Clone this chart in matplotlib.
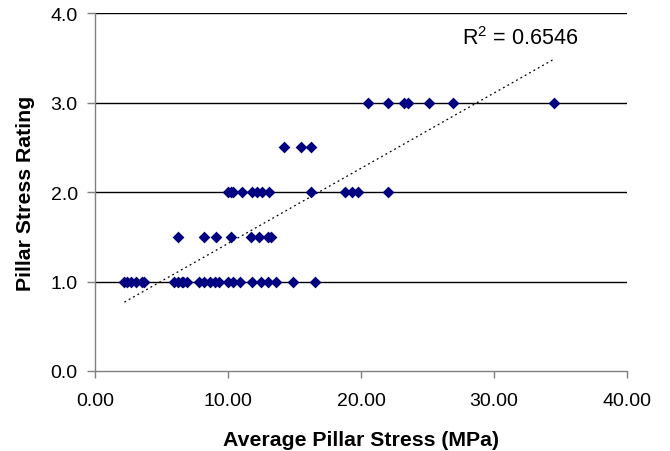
import numpy as np
import matplotlib
matplotlib.use("Agg")
import matplotlib.pyplot as plt

plt.rcParams['font.family'] = ['Liberation Sans', 'DejaVu Sans']
plt.rcParams['mathtext.fontset'] = 'custom'
plt.rcParams['mathtext.rm'] = 'Liberation Sans'
plt.rcParams['mathtext.it'] = 'Liberation Sans'
plt.rcParams['mathtext.default'] = 'regular'

# Data
stress_10 = [2.2, 2.4, 2.7, 3.1, 3.5, 3.7, 5.9, 6.2, 6.5, 6.6, 6.9, 7.8, 8.2, 8.6, 9.0, 9.3,
             10.0, 10.4, 10.9, 11.8, 12.5, 13.0, 13.6, 14.9, 16.5]
rating_10 = [1.0] * len(stress_10)
stress_15 = [6.2, 8.2, 9.1, 10.2, 11.7, 12.3, 13.0, 13.2]
rating_15 = [1.5] * len(stress_15)
stress_20 = [10.0, 10.2, 10.4, 11.05, 11.8, 12.2, 12.55, 13.05, 16.2, 18.8, 19.3, 19.8, 22.0]
rating_20 = [2.0] * len(stress_20)
stress_25 = [14.2, 15.5, 16.2]
rating_25 = [2.5] * len(stress_25)
stress_30 = [20.5, 22.0, 23.2, 23.5, 25.1, 26.9, 34.5]
rating_30 = [3.0] * len(stress_30)

x = np.array(stress_10 + stress_15 + stress_20 + stress_25 + stress_30)
y = np.array(rating_10 + rating_15 + rating_20 + rating_25 + rating_30)

x_ticks = [0, 10, 20, 30, 40]
y_ticks = [0, 1, 2, 3, 4]
r2_label = "R$^2$ = 0.6546"

fig = plt.figure(figsize=(6.7, 4.52), dpi=100)
ax = fig.add_axes([0.142, 0.177, 0.794, 0.792])

for yt in y_ticks[1:]:
    ax.axhline(yt, color='black', lw=1.0, zorder=1)

ax.scatter(x, y, marker='D', s=36, color='#000080', zorder=3, linewidths=0)

# linear trendline
m, b = np.polyfit(x, y, 1)
xt = np.array([x.min(), x.max()])
ax.plot(xt, m * xt + b, ls=(0, (1.5, 2.5)), color='black', lw=0.9, zorder=2)

ax.text(27.6, 3.73, r2_label, fontsize=15.5, ha='left', va='center')

ax.set_xlim(0, 40)
ax.set_ylim(0, 4)
ax.set_xticks(x_ticks)
ax.set_xticklabels([f"{v:.2f}" for v in x_ticks], fontsize=14)
ax.set_yticks(y_ticks)
ax.set_yticklabels([f"{v:.1f}" for v in y_ticks], fontsize=14)
ax.tick_params(axis='both', direction='out', width=1, color='#808080')
ax.tick_params(axis='x', length=5, pad=10)
ax.tick_params(axis='y', length=6, pad=6.5)

for s in ['top', 'right']:
    ax.spines[s].set_visible(False)
for s in ['left', 'bottom']:
    ax.spines[s].set_color('#808080')
    ax.spines[s].set_linewidth(1)

ax.set_xlabel("Average Pillar Stress (MPa)", fontsize=15.3, fontweight='bold', labelpad=15)
ax.set_ylabel("Pillar Stress Rating", fontsize=15.3, fontweight='bold', labelpad=11)

fig.savefig("out.png", dpi=100)
